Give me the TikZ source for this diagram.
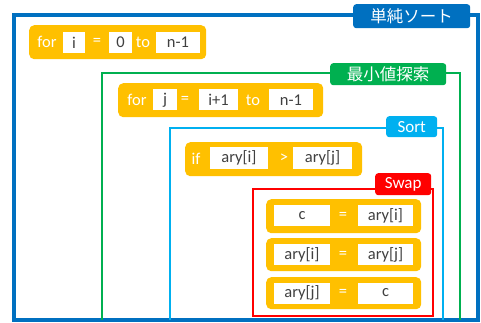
\documentclass[tikz,border=0pt]{standalone}
\usepackage{fontspec}
\setmainfont{Carlito}
\newfontfamily\jp{Noto Sans CJK JP}
\definecolor{yel}{HTML}{FFC000}
\definecolor{dblue}{HTML}{0070C0}
\definecolor{grn}{HTML}{00B050}
\definecolor{lblue}{HTML}{00B0F0}
\definecolor{rd}{HTML}{FF0000}
\definecolor{txt}{HTML}{404040}
\tikzset{
  ybox/.style={fill=yel, rounded corners=5pt, anchor=north west, inner sep=0pt},
  wbox/.style={fill=white, inner sep=0pt, minimum height=21pt, text=txt, font=\fontsize{16.5}{16.5}\selectfont},
  kw/.style={text=white, inner sep=0pt, font=\fontsize{16.5}{16.5}\selectfont},
  frame/.style={line width=2.6pt},
  tag/.style={rounded corners=3pt, anchor=north west, inner sep=0pt, text=white, font=\fontsize{17}{17}\selectfont},
}
\begin{document}
\begin{tikzpicture}[x=1pt,y=-1pt]
\useasboundingbox (0,0) rectangle (481,323);
% frames
\draw[frame, dblue, line width=3.2pt] (14,15) rectangle (478,320);
\draw[frame, grn] (102,320) -- (102,73) -- (460,73) -- (460,320);
\draw[frame, lblue] (170,320) -- (170,128) -- (443,128) -- (443,320);
\draw[frame, rd] (253,189) rectangle (433,316);
% tags
\node[tag, fill=dblue, minimum width=117pt, minimum height=24pt] (t1) at (353,4) {\jp\fontsize{16.5}{16.5}\selectfont 単純ソート};
\node[tag, fill=grn, minimum width=116pt, minimum height=22pt] (t2) at (330,63) {\jp\fontsize{16.5}{16.5}\selectfont 最小値探索};
\node[tag, fill=lblue, minimum width=51pt, minimum height=21pt] (t3) at (386,116) {Sort};
\node[tag, fill=rd, minimum width=56pt, minimum height=22pt] (t4) at (375,173) {Swap};
% block 1
\node[ybox, minimum width=177pt, minimum height=34pt] (b1) at (29,25) {};
\node[kw] (b1for) at (47,42) {for};
\node[wbox, minimum width=22pt] (b1i) at (74,42.5) {i};
\node[kw] (b1eq) at (97,42) {=};
\node[wbox, minimum width=23pt] (b1z) at (120.5,42.5) {0};
\node[kw] (b1to) at (143,42) {to};
\node[wbox, minimum width=44pt] (b1n) at (178,42.5) {n-1};
% block 2
\node[ybox, minimum width=205pt, minimum height=34pt] (b2) at (118,83) {};
\node[kw] (b2for) at (137,100) {for};
\node[wbox, minimum width=24pt] (b2j) at (165,100) {j};
\node[kw] (b2eq) at (185,100) {=};
\node[wbox, minimum width=39pt] (b2s) at (218.5,100) {i+1};
\node[kw] (b2to) at (253,100) {to};
\node[wbox, minimum width=44pt] (b2n) at (291,100) {n-1};
% block 3
\node[ybox, minimum width=177pt, minimum height=34pt] (b3) at (185,142) {};
\node[kw] (b3if) at (196,158.5) {if};
\node[wbox, minimum width=58pt] (b3a) at (239,158) {ary[i]};
\node[kw] (b3gt) at (284,158.5) {>};
\node[wbox, minimum width=59pt] (b3b) at (322.5,158) {ary[j]};
% swap blocks
\node[ybox, minimum width=155pt, minimum height=34pt] (s1) at (266,199) {};
\node[wbox, minimum width=56pt] (s1a) at (302,215.5) {c};
\node[kw] (s1eq) at (343,216) {=};
\node[wbox, minimum width=55pt] (s1b) at (385.5,215.5) {ary[i]};
\node[ybox, minimum width=155pt, minimum height=33pt] (s2) at (266,238) {};
\node[wbox, minimum width=56pt] (s2a) at (302,254.5) {ary[i]};
\node[kw] (s2eq) at (343,254.5) {=};
\node[wbox, minimum width=55pt] (s2b) at (385.5,254.5) {ary[j]};
\node[ybox, minimum width=155pt, minimum height=32pt] (s3) at (266,277) {};
\node[wbox, minimum width=56pt] (s3a) at (302,293) {ary[j]};
\node[kw] (s3eq) at (343,293) {=};
\node[wbox, minimum width=55pt] (s3b) at (385.5,293) {c};
\end{tikzpicture}
\end{document}
